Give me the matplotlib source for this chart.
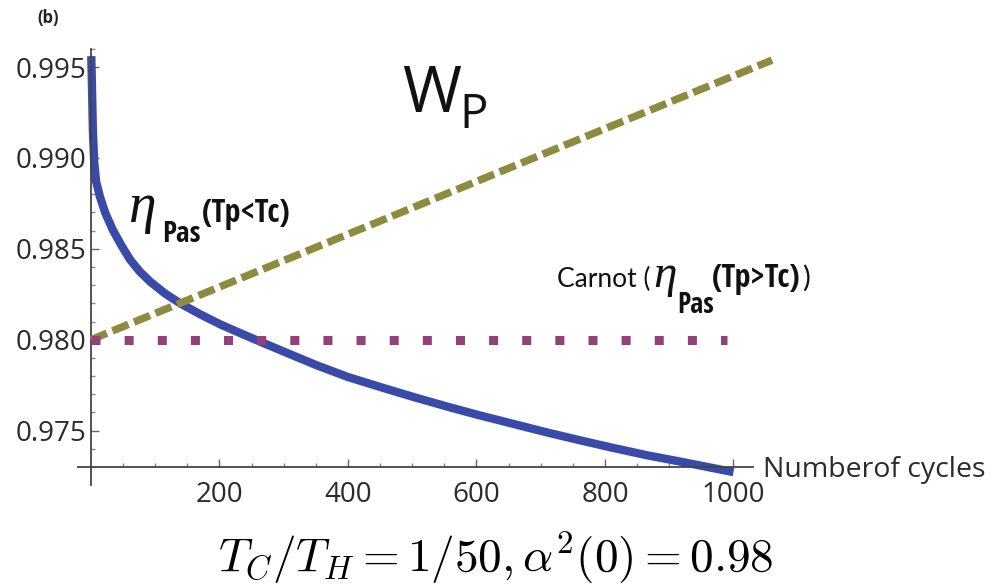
import matplotlib
matplotlib.use("Agg")
import matplotlib.pyplot as plt

# Datos
ciclos = [0.5, 1.5, 3, 5, 8, 14, 22, 34, 48, 61, 76, 92, 115, 139, 170, 201,
          230, 263, 300, 351, 400, 455, 505, 559, 605, 632, 710, 760, 813,
          865, 917, 960, 1000]
eta_pas = [0.9956, 0.9940, 0.9915, 0.9898, 0.9887, 0.98786, 0.9870, 0.98604,
           0.98515, 0.98440, 0.98375, 0.98320, 0.98255, 0.98200, 0.98140,
           0.98085, 0.98040, 0.97990, 0.97935, 0.97860, 0.97795, 0.97735,
           0.97682, 0.97628, 0.97584, 0.97560, 0.97490, 0.97448, 0.97405,
           0.97365, 0.97330, 0.97300, 0.97272]

wp_x = [0, 1060]
wp_y = [0.9800, 0.99538]

carnot_x = [0, 990]
carnot_y = [0.980, 0.980]

ticks_x = [200, 400, 600, 800, 1000]
ticks_y = [0.975, 0.980, 0.985, 0.990, 0.995]

plt.rcParams['mathtext.fontset'] = 'cm'

fuente = 'Open Sans'
angosta = ['Noto Sans Condensed', 'Open Sans Condensed', 'DejaVu Sans Condensed',
           'Liberation Sans Narrow', 'Lato']
serif = 'Liberation Serif'
gris = '#2b2b2b'
negro = '#111111'

fig = plt.figure(figsize=(9.99, 5.87), dpi=100)
ax = fig.add_axes([0.0782, 0.1734, 0.6753, 0.7434])

ax.plot(ciclos, eta_pas, color='#3a4aa8', lw=6, solid_capstyle='butt',
        solid_joinstyle='round', zorder=2, clip_on=False)
ax.plot(wp_x, wp_y, color='#8e8a3e', lw=5.4, linestyle=(0, (2.3, 0.8)),
        zorder=3, clip_on=False)
ax.plot(carnot_x, carnot_y, color='#94407c', lw=6.5, linestyle=(0, (1, 2.67)),
        zorder=4, clip_on=False)

ax.set_xlim(-20, 1030)
ax.set_ylim(0.972, 0.996)

# ejes estilo Mathematica
ax.spines['top'].set_visible(False)
ax.spines['right'].set_visible(False)
ax.spines['left'].set_position(('data', 0))
ax.spines['bottom'].set_position(('data', 0.973))
for s in ['left', 'bottom']:
    ax.spines[s].set_color('#444444')
    ax.spines[s].set_linewidth(1.3)

ax.set_xticks(ticks_x)
ax.set_xticks([x for x in range(50, 1030, 50) if x not in ticks_x], minor=True)
ax.set_yticks(ticks_y)
ax.set_yticks([0.973 + 0.001 * i for i in range(24) if i % 5 != 2], minor=True)
ax.set_xticklabels([str(x) for x in ticks_x])
ax.set_yticklabels(['%.3f' % y for y in ticks_y])

ax.tick_params(which='major', direction='in', length=6, width=1, color='#666666')
ax.tick_params(which='minor', direction='in', length=3, width=1, color='#888888')
ax.tick_params(axis='x', pad=10)
ax.tick_params(axis='y', pad=3)
for lab in ax.get_xticklabels() + ax.get_yticklabels():
    lab.set_fontfamily(fuente)
    lab.set_fontsize(20)
    lab.set_color(gris)

# etiqueta del eje x
ax.text(1046, 0.97247, 'Numberof cycles', fontsize=20.5, family=fuente,
        color=gris, va='baseline', ha='left', clip_on=False)

# W_P
ax.text(484, 0.99253, 'W', fontsize=46, family=fuente, color=negro,
        va='baseline', ha='left')
ax.text(574, 0.99165, 'P', fontsize=34, family=fuente, color=negro,
        va='baseline', ha='left')

# eta_Pas^(Tp<Tc)
ax.text(58, 0.98648, 'η', fontsize=40, family=serif, style='italic',
        color=negro, va='baseline', ha='left')
ax.text(111, 0.98538, 'Pas', fontsize=21, family=angosta, weight='bold',
        fontstretch='condensed', color=negro, va='baseline', ha='left')
ax.text(173, 0.98648, '(Tp<Tc)', fontsize=23, family=angosta, weight='bold',
        fontstretch='condensed', color=negro, va='baseline', ha='left')

# Carnot (eta_Pas (Tp>Tc))
ax.text(725, 0.98291, 'Carnot (', fontsize=19, family='Lato',
        color=negro, va='baseline', ha='left')
ax.text(876, 0.98291, 'η', fontsize=34, family=serif, style='italic',
        color=negro, va='baseline', ha='left')
ax.text(912, 0.98148, 'Pas', fontsize=20, family=angosta, weight='bold',
        fontstretch='condensed', color=negro, va='baseline', ha='left')
ax.text(966, 0.98291, '(Tp>Tc)', fontsize=23, family=angosta, weight='bold',
        fontstretch='condensed', color=negro, va='baseline', ha='left',
        clip_on=False)
ax.text(1106, 0.98291, ')', fontsize=21, family='Lato',
        color=negro, va='baseline', ha='left', clip_on=False)

fig.text(0.048, 0.969, '(b)', fontsize=12, family=fuente, weight='bold',
         color='#222222', ha='center', va='center')

fig.text(0.4965, 0.0256, r'$T_C/T_H=1/50,\alpha^2(0)=0.98$', fontsize=34,
         color='black', ha='center', va='baseline')

fig.savefig('out.png', dpi=100)
